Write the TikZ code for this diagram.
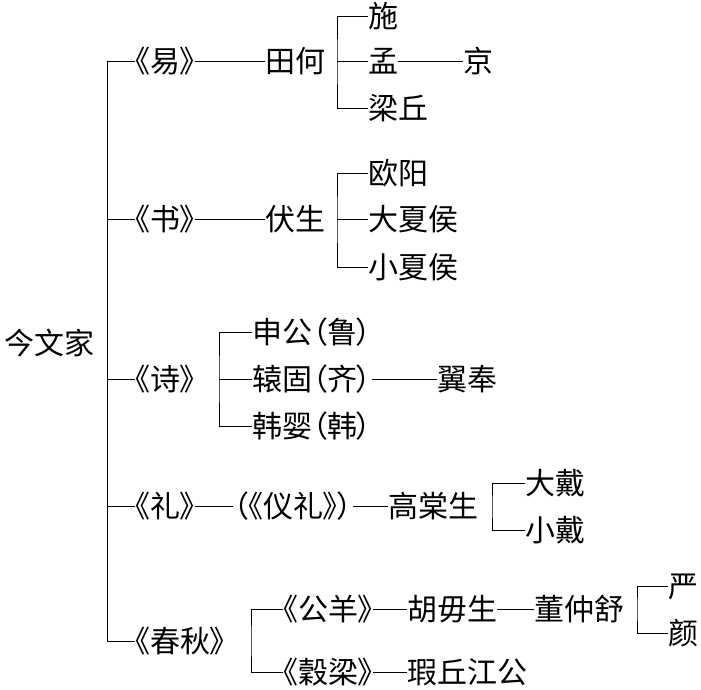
\documentclass[tikz,border=0pt]{standalone}
\usepackage{fontspec}
\newfontfamily\cjk[RawFeature=+palt]{Noto Sans CJK SC}
\begin{document}
\begin{tikzpicture}[x=1pt,y=-1pt,
  lbl/.style={anchor=west,inner sep=0pt,outer sep=0pt,font=\cjk\fontsize{30}{36}\selectfont,text height=24.9pt,text depth=1.8pt},
  link/.style={line width=0.9pt,line cap=rect}]
\useasboundingbox (0,0) rectangle (701,690);
% root
\node[lbl] (jwj) at (5,343) {今文家};
\coordinate (vtop) at (107,61);
\coordinate (vbot) at (107,641);
\draw[link] (vtop) -- (vbot);
% Yi
\node[lbl] (yi) at (135,61) {《易》};
\node[lbl] (tianhe) at (265,61) {田何};
\coordinate (b1) at (337,61);
\node[lbl] (shi) at (368,16) {施};
\node[lbl] (meng) at (368,61) {孟};
\node[lbl] (liangqiu) at (368,108) {梁丘};
\node[lbl] (jing) at (463,61) {京};
\draw[link] (yi.west -| vtop) -- (yi.west);
\draw[link] (yi.east) -- (tianhe.west);
\draw[link] (shi.west) -| (b1) |- (liangqiu.west);
\draw[link] (b1) -- (meng.west);
\draw[link] (meng.east) -- (jing.west);
% Shu
\node[lbl] (shu) at (135,219) {《书》};
\node[lbl] (fusheng) at (265,219) {伏生};
\coordinate (b2) at (337,219);
\node[lbl] (ouyang) at (368,173) {欧阳};
\node[lbl] (dxh) at (368,219) {大夏侯};
\node[lbl] (xxh) at (368,267) {小夏侯};
\draw[link] (shu.west -| vtop) -- (shu.west);
\draw[link] (shu.east) -- (fusheng.west);
\draw[link] (ouyang.west) -| (b2) |- (xxh.west);
\draw[link] (b2) -- (dxh.west);
% Shi
\node[lbl] (shijing) at (135,379) {《诗》};
\coordinate (b3) at (219,379);
\node[lbl] (shengong) at (252,332) {申公（鲁）};
\node[lbl] (yuangu) at (252,379) {辕固（齐）};
\node[lbl] (hanying) at (252,426) {韩婴（韩）};
\node[lbl] (yifeng) at (437,379) {翼奉};
\draw[link] (shijing.west -| vtop) -- (shijing.west);
\draw[link] (shengong.west) -| (b3) |- (hanying.west);
\draw[link] (b3) -- (yuangu.west);
\draw[link] (yuangu.east) -- (yifeng.west);
% Li
\node[lbl] (li) at (135,506) {《礼》};
\node[lbl] (yili) at (233,506) {（《仪礼》）};
\node[lbl] (gts) at (388,506) {高棠生};
\coordinate (b4) at (492,506);
\node[lbl] (dadai) at (525,483) {大戴};
\node[lbl] (xiaodai) at (525,530) {小戴};
\draw[link] (li.west -| vtop) -- (li.west);
\draw[link] (li.east) -- (yili.west);
\draw[link] (yili.east) -- (gts.west);
\draw[link] (dadai.west) -| (b4) |- (xiaodai.west);
% Chunqiu
\node[lbl] (cq) at (135,641) {《春秋》};
\coordinate (b5) at (251,641);
\node[lbl] (gy) at (283,609) {《公羊》};
\node[lbl] (gl) at (283,672) {《穀梁》};
\node[lbl] (hws) at (407,609) {胡毋生};
\node[lbl] (dzs) at (534,609) {董仲舒};
\coordinate (b6) at (637,609);
\node[lbl] (yan1) at (668,586) {严};
\node[lbl] (yan2) at (668,633) {颜};
\node[lbl] (xqjg) at (407,672) {瑕丘江公};
\draw[link] (cq.west -| vtop) -- (cq.west);
\draw[link] (gy.west) -| (b5) |- (gl.west);
\draw[link] (gy.east) -- (hws.west);
\draw[link] (hws.east) -- (dzs.west);
\draw[link] (yan1.west) -| (b6) |- (yan2.west);
\draw[link] (gl.east) -- (xqjg.west);
\end{tikzpicture}
\end{document}
